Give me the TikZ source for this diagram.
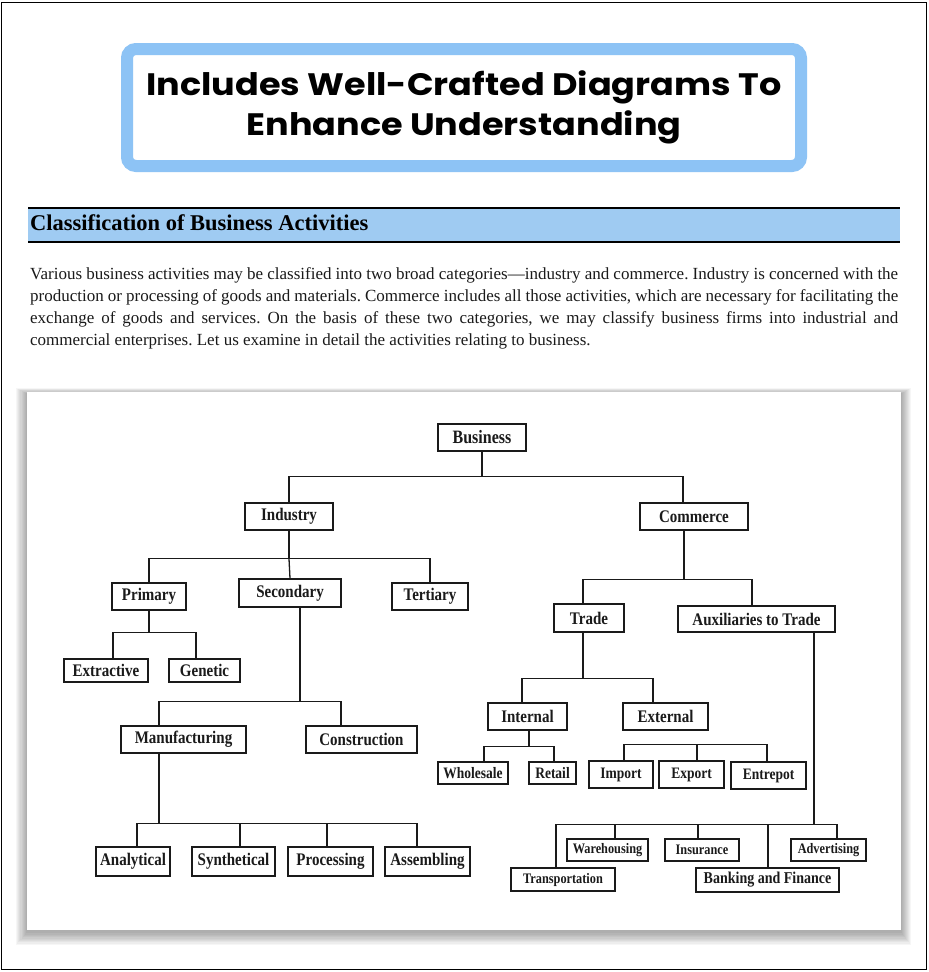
\documentclass[tikz,border=0pt]{standalone}
\usepackage{fontspec}
\setmainfont{Liberation Serif}
\newfontfamily\titlefont{Poppins}
\definecolor{titleblue}{HTML}{8DC3F5}
\definecolor{headblue}{HTML}{9FCBF2}
\definecolor{ink}{HTML}{1A1A1A}
\newcommand\boxnode[7][]{\node[bx,#1,minimum width={#5-#3},minimum height={#6-#4}] (#2) at ({(#3+#5)/2},{(#4+#6)/2}) {\scalebox{1}[1.18]{#7}};}
\begin{document}
\frenchspacing
\begin{tikzpicture}[x=1pt,y=-1pt,
  bx/.style={draw=ink, line width=1.5pt, fill=white, inner sep=0pt, text=ink, font=\fontsize{15}{15}\selectfont\bfseries},
  sm/.style={font=\fontsize{12.3}{12}\selectfont\bfseries},
  md/.style={font=\fontsize{13.5}{13}\selectfont\bfseries},
  ln/.style={draw=ink, line width=1.3pt},
  pline/.style={anchor=base west, inner sep=0pt, text=ink, font=\fontsize{17}{19}\selectfont}]
\useasboundingbox (0,0) rectangle (929,972);
\fill[white] (0,0) rectangle (929,972);
\draw[line width=1.5pt] (1.5,2.5) rectangle (926.5,969.5);
% title
\node[draw=titleblue, line width=12pt, rounded corners=9pt, fill=white, minimum width=674pt, minimum height=117pt, align=center, font=\titlefont\bfseries\fontsize{31}{40}\selectfont] (title) at (464,107.5) {\scalebox{1.13}[1]{Includes Well-Crafted Diagrams To}\\\scalebox{1.13}[1]{Enhance Understanding}};
% heading
\fill[headblue] (28,208) rectangle (900,242);
\draw[line width=2pt] (28,208) -- (900,208);
\draw[line width=2.5pt] (28,242) -- (900,242);
\node[anchor=base west, inner sep=0pt, text=black, font=\fontsize{22.5}{22}\selectfont\bfseries] (head) at (30,230) {Classification of Business Activities};
% paragraph
\node[pline] (p1) at (30,279) {\makebox[868pt][s]{Various business activities may be classified into two broad categories—industry and commerce. Industry is concerned with the}};
\node[pline] (p2) at (30,301) {\makebox[868pt][s]{production or processing of goods and materials. Commerce includes all those activities, which are necessary for facilitating the}};
\node[pline] (p3) at (30,323) {\makebox[868pt][s]{exchange of goods and services. On the basis of these two categories, we may classify business firms into industrial and}};
\node[pline] (p4) at (30,345) {commercial enterprises. Let us examine in detail the activities relating to business.};
% panel with shadow
\foreach \i in {1,...,10}{
  \fill[black, opacity=0.035] (27-1.1*\i,392-0.6*\i+2) rectangle (901+\i,930+1.3*\i+2);
}
\fill[white] (27,392) rectangle (901,930);
% nodes
\boxnode[font=\fontsize{16}{16}\selectfont\bfseries]{biz}{438}{424}{526}{451}{Business}
\boxnode{ind}{245}{503}{333}{530}{Industry}
\boxnode{com}{640}{503}{748}{530}{Commerce}
\boxnode{pri}{112}{583}{186}{610}{Primary}
\boxnode{sec}{239}{579}{341}{607}{Secondary}
\boxnode{ter}{392}{583}{468}{610}{Tertiary}
\boxnode{ext}{64}{659}{148}{682}{Extractive}
\boxnode{gen}{169}{659}{240}{682}{Genetic}
\boxnode{man}{121}{726}{246}{753}{Manufacturing}
\boxnode{con}{306}{726}{417}{753}{Construction}
\boxnode{ana}{96}{847}{170}{876}{Analytical}
\boxnode{syn}{192}{847}{275}{876}{Synthetical}
\boxnode{pro}{288}{847}{373}{876}{Processing}
\boxnode{ass}{385}{847}{470}{876}{Assembling}
\boxnode{tra}{554}{604}{624}{632}{Trade}
\boxnode{aux}{678}{606}{835}{632}{Auxiliaries to Trade}
\boxnode{int}{488}{703}{567}{730}{Internal}
\boxnode{ex}{623}{703}{708}{730}{External}
\boxnode[md]{who}{438}{762}{508}{784}{Wholesale}
\boxnode[md]{ret}{529}{762}{576}{784}{Retail}
\boxnode[md]{imp}{589}{761}{653}{788}{Import}
\boxnode[md]{exp}{659}{761}{724}{788}{Export}
\boxnode[md]{ent}{731}{762}{806}{789}{Entrepot}
\boxnode[sm]{war}{567}{839}{648}{861}{Warehousing}
\boxnode[sm]{ins}{665}{839}{739}{861}{Insurance}
\boxnode[sm]{adv}{791}{839}{866}{861}{Advertising}
\boxnode[sm]{trn}{511}{868}{615}{891}{Transportation}
\boxnode[font=\fontsize{14}{14}\selectfont\bfseries]{ban}{696}{868}{839}{892}{Banking and Finance}
% connectors
\draw[ln] (biz.south) -- ++(0,25) coordinate (b1);
\draw[ln] (ind.north) |- (b1) -| ([xshift=-11pt]com.north);
\draw[ln] (ind.south) -- ++(0,28) coordinate (i1);
\draw[ln] (pri.north) |- (i1) -| (ter.north);
\draw[ln] (i1) -- (sec.north);
\draw[ln] (pri.south) -- ++(0,22) coordinate (p1c);
\draw[ln] ([xshift=7pt]ext.north) |- (p1c) -| ([xshift=-8.5pt]gen.north);
\draw[ln] ([xshift=10pt]sec.south) -- ++(0,94) coordinate (s1);
\draw[ln] ([xshift=-24.5pt]man.north) |- (s1) -| ([xshift=-20.5pt]con.north);
\draw[ln] ([xshift=-24.5pt]man.south) -- ++(0,70) coordinate (m1);
\draw[ln] ([xshift=4pt]ana.north) |- (m1) -| ([xshift=-10.5pt]ass.north);
\draw[ln] ([xshift=6.5pt]syn.north) -- ([xshift=6.5pt]syn.north |- m1);
\draw[ln] ([xshift=-3.5pt]pro.north) -- ([xshift=-3.5pt]pro.north |- m1);
\draw[ln] ([xshift=-10pt]com.south) -- ++(0,49) coordinate (c1);
\draw[ln] ([xshift=-6pt]tra.north) |- (c1) -| ([xshift=-4.5pt]aux.north);
\draw[ln] ([xshift=-6pt]tra.south) -- ++(0,46) coordinate (t1);
\draw[ln] ([xshift=-5.5pt]int.north) |- (t1) -| ([xshift=-12.5pt]ex.north);
\draw[ln] ([xshift=1.5pt]int.south) -- ++(0,16) coordinate (n1);
\draw[ln] ([xshift=11pt]who.north) |- (n1) -| ([xshift=1.5pt]ret.north);
\draw[ln] ([xshift=3pt]imp.north) -- ++(0,-16) coordinate (e1) -| ([xshift=-1.5pt]ent.north);
\draw[ln] ([xshift=5.5pt]exp.north) -- ([xshift=5.5pt]exp.north |- e1);
\draw[ln] ([xshift=57.5pt]aux.south) -- ++(0,192) coordinate (a1);
\draw[ln] ([xshift=-7pt]trn.north) |- (a1) -| ([xshift=8.5pt]adv.north);
\draw[ln] ([xshift=7.5pt]war.north) -- ([xshift=7.5pt]war.north |- a1);
\draw[ln] ([xshift=-4pt]ins.north) -- ([xshift=-4pt]ins.north |- a1);
\draw[ln] ([xshift=0.5pt]ban.north) -- ([xshift=0.5pt]ban.north |- a1);
\end{tikzpicture}
\end{document}
